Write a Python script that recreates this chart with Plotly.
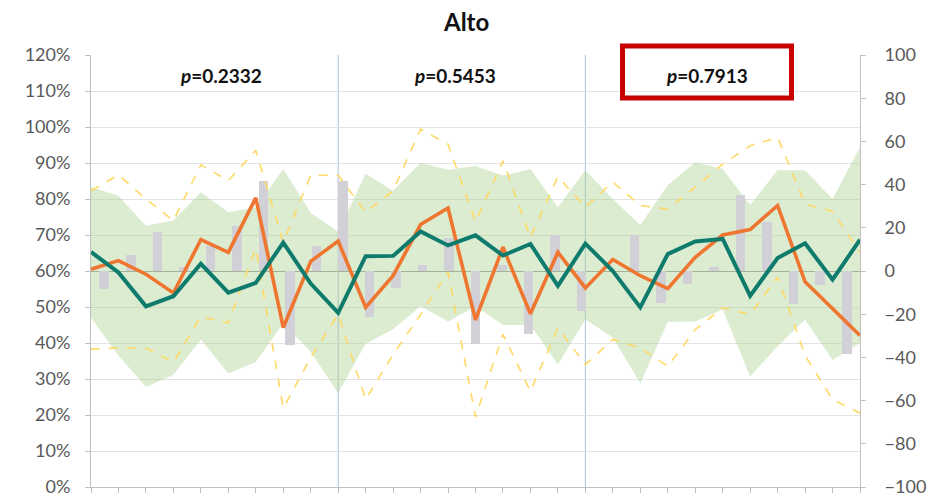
import plotly.graph_objects as go

# ---- data ----
points = list(range(29))                       # time points on the primary axis
bar_cats = [str(i + 1) for i in range(29)]     # bar categories on the secondary axis

teal = [65.3, 59.6, 50.2, 53.0, 62.0, 54.0, 56.7, 67.9, 56.5, 48.4,
        64.1, 64.2, 71.0, 67.1, 69.9, 64.3, 67.5, 55.9, 67.6, 60.0,
        49.9, 64.7, 68.2, 68.9, 53.1, 63.6, 67.7, 57.6, 68.7]
orange = [60.5, 62.9, 59.1, 53.9, 68.7, 65.2, 80.3, 44.3, 62.7, 68.3,
          49.9, 58.7, 72.9, 77.5, 46.4, 66.6, 48.1, 65.2, 55.3, 63.2,
          58.7, 55.1, 63.8, 70.0, 71.5, 78.2, 57.0, 49.6, 42.1]
band_upper = [83.3, 80.9, 72.6, 74.0, 81.9, 76.3, 77.7, 88.3, 76.2, 70.9,
              87.0, 82.3, 90.1, 88.1, 89.2, 86.5, 88.3, 77.7, 88.0, 80.0,
              72.8, 83.8, 90.2, 88.3, 78.3, 88.0, 88.0, 80.0, 94.4]
band_lower = [47.0, 36.5, 27.8, 31.2, 41.0, 31.5, 34.7, 45.5, 37.5, 26.1,
              39.8, 43.8, 50.2, 46.0, 50.2, 45.0, 45.0, 34.0, 46.5, 41.5,
              28.8, 45.8, 46.0, 49.3, 30.7, 39.1, 46.5, 35.3, 40.0]
dash_upper = [82.3, 86.7, 80.0, 74.0, 89.5, 85.1, 93.5, 68.0, 86.6, 86.6,
              76.3, 82.3, 99.4, 95.2, 73.7, 90.6, 69.3, 86.2, 77.7, 84.7,
              78.2, 77.2, 83.3, 89.7, 94.8, 97.1, 78.6, 76.6, 65.1]
dash_lower = [38.3, 38.6, 38.6, 34.6, 47.3, 45.6, 66.2, 21.9, 36.0, 48.0,
              24.3, 36.8, 47.9, 59.7, 19.4, 42.4, 26.6, 44.2, 34.0, 41.0,
              38.6, 33.5, 43.7, 49.8, 47.9, 58.3, 36.5, 24.3, 20.5]
bars = [-8.2, 7.2, 18.0, 2.0, 11.5, 21.0, 41.5, -34.3, 11.8, 41.5,
        -21.5, -7.7, 2.7, 15.2, -33.8, 3.0, -29.2, 16.5, -18.5, 0.0,
        16.8, -14.6, -6.2, 2.0, 35.0, 22.5, -15.3, -6.4, -38.3]

left_ticks = list(range(0, 121, 10))
left_labels = [f"{v}%" for v in left_ticks]
right_ticks = list(range(-100, 101, 20))
p_labels = ["<i>p</i>=0.2332", "<i>p</i>=0.5453", "<i>p</i>=0.7913"]
split_points = [9, 18]
title = "Alto"

FONT = "Lato"
TICK = dict(family=FONT, size=18, color="#595959")

fig = go.Figure()

# band (base subplot)
fig.add_trace(go.Scatter(x=points, y=band_lower, mode="lines", line=dict(width=0),
                         hoverinfo="skip", showlegend=False, xaxis="x", yaxis="y"))
fig.add_trace(go.Scatter(x=points, y=band_upper, mode="lines", line=dict(width=0),
                         fill="tonexty", fillcolor="rgba(168,208,141,0.40)",
                         showlegend=False, xaxis="x", yaxis="y"))

# bars (secondary axis, overlay 1)
fig.add_trace(go.Bar(x=bar_cats, y=bars, marker=dict(color="#D0D0D6", line=dict(width=0)),
                     width=0.36, showlegend=False, xaxis="x2", yaxis="y2"))

# lines (overlay 2)
for ys in (dash_upper, dash_lower):
    fig.add_trace(go.Scatter(x=points, y=ys, mode="lines",
                             line=dict(color="#FFD966", width=1.6, dash="dash"),
                             showlegend=False, xaxis="x3", yaxis="y3"))
fig.add_trace(go.Scatter(x=points, y=orange, mode="lines",
                         line=dict(color="#EE7631", width=3.6),
                         showlegend=False, xaxis="x3", yaxis="y3"))
fig.add_trace(go.Scatter(x=points, y=teal, mode="lines",
                         line=dict(color="#0E7B6C", width=4),
                         showlegend=False, xaxis="x3", yaxis="y3"))

# the page body offsets the figure by 8px; margins compensate (automargin off)
fig.update_layout(
    width=935, height=501,
    margin=dict(l=83, r=83, t=47, b=22),
    plot_bgcolor="white", paper_bgcolor="white",
    xaxis=dict(range=[0, 28], tickvals=points, showticklabels=False, ticks="outside",
               ticklen=5, tickcolor="#BFBFBF", showline=True, linecolor="#BFBFBF",
               showgrid=False, zeroline=False, automargin=False),
    yaxis=dict(range=[0, 120], tickvals=left_ticks, ticktext=left_labels, tickfont=TICK,
               ticks="outside", ticklen=5, tickcolor="#BFBFBF", showline=True,
               linecolor="#BFBFBF", showgrid=True, gridcolor="#E3E3E3", zeroline=False,
               ticklabelstandoff=11, automargin=False),
    xaxis2=dict(overlaying="x", type="category", range=[-0.5, 28.5], visible=False,
                automargin=False),
    yaxis2=dict(overlaying="y", side="right", range=[-100, 100], tickvals=right_ticks,
                tickfont=TICK, ticks="outside", ticklen=5, tickcolor="#BFBFBF",
                showline=True, linecolor="#BFBFBF", showgrid=False, zeroline=True,
                zerolinecolor="#A0A0A0", zerolinewidth=1.2, ticklabelstandoff=15,
                automargin=False),
    xaxis3=dict(overlaying="x", range=[0, 28], visible=False, automargin=False),
    yaxis3=dict(overlaying="y", range=[0, 120], visible=False, automargin=False),
    bargap=0,
)

for sp in split_points:
    fig.add_shape(type="line", xref="x", yref="paper", x0=sp, x1=sp, y0=0, y1=1,
                  line=dict(color="#A9C3DD", width=1), layer="below")

# title
fig.add_annotation(text=f"<b>{title}</b>", xref="paper", yref="paper", x=0.488, y=1.077,
                   showarrow=False, font=dict(family=FONT, size=24, color="#111111"),
                   xanchor="center", yanchor="middle")

# p-value labels
for xp, lab in zip([0.1697, 0.4733, 0.8010], p_labels):
    fig.add_annotation(text=f"<b>{lab}</b>", xref="paper", yref="paper", x=xp, y=0.9525,
                       showarrow=False, font=dict(family=FONT, size=19, color="#111111"),
                       xanchor="center", yanchor="middle")

# red highlight box
fig.add_shape(type="rect", xref="paper", yref="paper", x0=0.6912, x1=0.9109,
              y0=0.9005, y1=1.0208, line=dict(color="#C80000", width=5),
              fillcolor="rgba(0,0,0,0)", layer="above")

fig.write_html("out.html")
